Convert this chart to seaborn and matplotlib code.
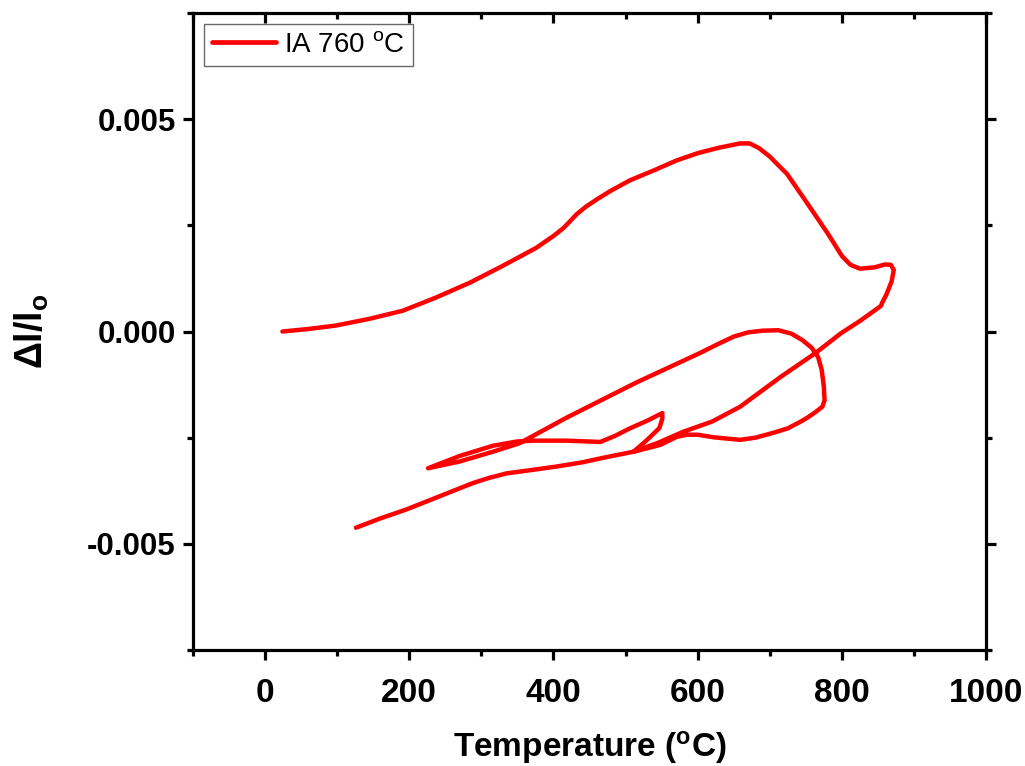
import matplotlib
matplotlib.use("Agg")
import matplotlib.pyplot as plt
import seaborn as sns
from matplotlib.ticker import MultipleLocator

# ---- data ----
temperature_C = [
    # heating to 870 C
    24, 60, 98, 145, 191, 237, 284, 330, 376, 400, 414, 422, 432, 445, 460, 478, 506, 540, 571,
    600, 630, 659, 672, 685, 700, 724, 752, 780, 800, 812, 825, 845, 860, 868, 872, 869, 862, 856,
    # cooling from 870 C
    854, 826, 798, 764, 715, 659, 620, 580, 545, 511,
    # recalescence hook and further cooling
    530, 547, 551, 551, 530, 506, 485, 465, 418, 372, 349, 316, 270, 226,
    # re-heating to the intercritical temperature
    270, 316, 353, 418, 515, 604, 630, 650, 670, 690, 712, 730, 745, 758, 767, 772, 775, 776, 773,
    764, 752,
    # final cooling
    743, 725, 706, 680, 659, 640, 622, 600, 585, 571, 548, 511, 470, 440, 404, 370, 335, 310, 288,
    242, 196, 160, 126,
]
dl_over_l0 = [
    0.0, 0.00006, 0.00014, 0.0003, 0.00049, 0.0008, 0.00115, 0.00155, 0.00197, 0.00225, 0.00244,
    0.00258, 0.00276, 0.00294, 0.00311, 0.0033, 0.00356, 0.0038, 0.00403,
    0.0042, 0.00433, 0.00443, 0.00443, 0.00432, 0.00412, 0.00371, 0.00302, 0.00232, 0.00178,
    0.00157, 0.00148, 0.00151, 0.00158, 0.00157, 0.00145, 0.00118, 0.00088, 0.00068,
    0.0006, 0.00026, -0.00005, -0.0005, -0.00107, -0.00177, -0.00212, -0.00236, -0.00262, -0.00283,
    -0.00255, -0.00227, -0.00205, -0.00192, -0.0021, -0.00228, -0.00246, -0.0026, -0.00257, -0.00257,
    -0.00259, -0.00269, -0.00293, -0.00322,
    -0.00306, -0.00283, -0.00263, -0.00203, -0.0012, -0.0005, -0.00028, -0.00012, -0.00002, 0.00002,
    0.00003, -0.00005, -0.0002, -0.00038, -0.0006, -0.0009, -0.0013, -0.00162, -0.00177,
    -0.00189, -0.00203,
    -0.00212, -0.00228, -0.00238, -0.0025, -0.00255, -0.00252, -0.00249, -0.00243, -0.00243,
    -0.00248, -0.00267, -0.00283, -0.00297, -0.00308, -0.00318, -0.00326, -0.00334, -0.00345,
    -0.00357, -0.00388, -0.00419, -0.0044, -0.00462,
]
series_label = "IA 760 $^{\\mathregular{o}}$C"
x_ticks = [0, 200, 400, 600, 800, 1000]
y_ticks = [-0.005, 0.0, 0.005]
y_tick_labels = ["-0.005", "0.000", "0.005"]

# ---- style ----
sns.set_style("white")
plt.rcParams["font.family"] = ["Liberation Sans", "DejaVu Sans"]
plt.rcParams["mathtext.default"] = "regular"
for key in ["text.color", "axes.labelcolor", "xtick.color", "ytick.color", "axes.edgecolor"]:
    plt.rcParams[key] = "black"

fig = plt.figure(figsize=(10.25, 7.66), dpi=100)
ax = fig.add_axes([0.1883, 0.1514, 0.7737, 0.8316])

sns.lineplot(x=temperature_C, y=dl_over_l0, sort=False, estimator=None,
             color="#ff0000", linewidth=3.2, label=series_label, ax=ax)

ax.set_xlim(-100, 1000)
ax.set_ylim(-0.0075, 0.0075)
ax.set_xticks(x_ticks)
ax.set_xticklabels([str(v) for v in x_ticks])
ax.set_yticks(y_ticks)
ax.set_yticklabels(y_tick_labels)
ax.xaxis.set_minor_locator(MultipleLocator(100))
ax.yaxis.set_minor_locator(MultipleLocator(0.0025))

for s in ax.spines.values():
    s.set_visible(True)
    s.set_linewidth(2.3)
    s.set_color("black")

ax.tick_params(axis="both", which="major", direction="out", length=7.5, width=2.3,
               bottom=True, left=True)
ax.tick_params(axis="both", which="minor", direction="out", length=4.5, width=2.3,
               bottom=True, left=True)
ax.tick_params(axis="x", which="major", pad=13)
ax.tick_params(axis="y", which="major", pad=5)
ax.tick_params(axis="x", which="both", top=True, labeltop=False)
ax.tick_params(axis="y", which="both", right=True, labelright=False)
# top ticks point inward, right ticks outward
for t in ax.xaxis.get_major_ticks() + ax.xaxis.get_minor_ticks():
    t.tick2line.set_marker(matplotlib.lines.TICKDOWN)
for lab in ax.get_xticklabels():
    lab.set_fontweight("bold")
    lab.set_fontsize(24)
for lab in ax.get_yticklabels():
    lab.set_fontweight("bold")
    lab.set_fontsize(22.5)

ax.set_xlabel("Temperature ($^{\\mathregular{o}}$C)", fontsize=24, fontweight="bold", labelpad=14)
ax.set_ylabel("Δl/l$_{\\mathregular{o}}$", fontsize=27, fontweight="bold", labelpad=26)

leg = ax.legend(loc="upper left", fontsize=20, frameon=True, fancybox=False,
                borderaxespad=0.4, handlelength=2.3, handletextpad=0.3,
                borderpad=0.28)
leg.get_frame().set_edgecolor("#444444")
leg.get_frame().set_linewidth(1.0)
for line in leg.get_lines():
    line.set_linewidth(3.4)

fig.savefig("out.png", dpi=100)
